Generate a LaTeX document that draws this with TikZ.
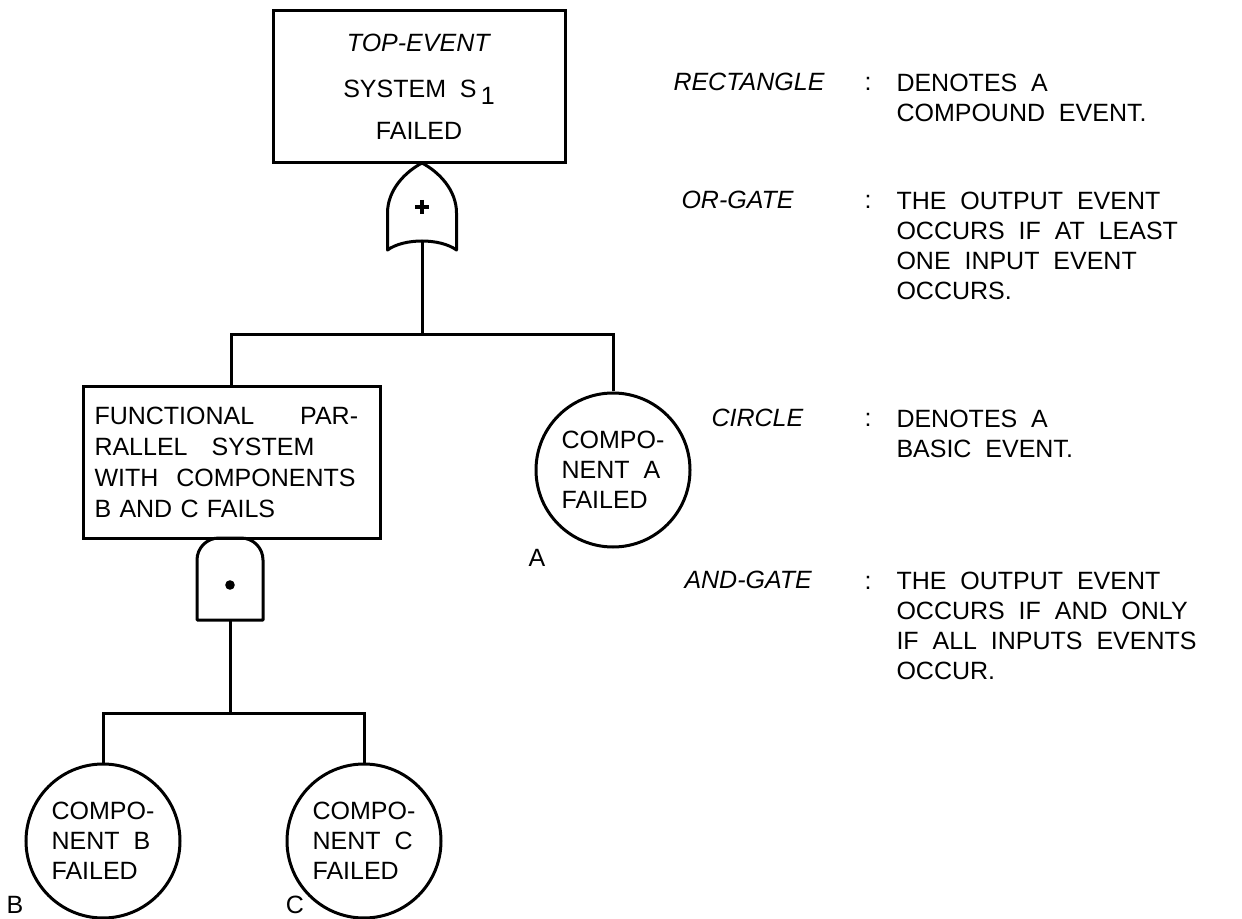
\documentclass[tikz,border=0pt]{standalone}
\usepackage{fontspec}
\setmainfont[WordSpace=2]{Liberation Sans}

\tikzset{
	txt/.style={font=\fontsize{12.5}{15}\selectfont, inner sep=0pt},
	event/.style={txt, draw, line width=1.5pt, rectangle},
	basic/.style={txt, draw, line width=1.5pt, circle, minimum size=77pt, align=left},
	legend/.style={txt, font=\fontsize{12.5}{15}\selectfont\itshape, anchor=west},
	desc/.style={txt, anchor=north west, align=left}
}

\begin{document}
\begin{tikzpicture}[x=0.5pt,y=-0.5pt,line width=1.5pt]
	\useasboundingbox (0,0) rectangle (1242,919);

	% top event
	\node[event, minimum width=146pt, minimum height=76pt, align=center] (top) at (419,87)
		{\textit{TOP-EVENT}\\[8pt] SYSTEM S\,\raisebox{-3.5pt}{1}\\[6pt] FAILED};

	% or-gate under the top event
	\coordinate (orout) at (422,163);
	\coordinate (orin) at (422,241);
	\draw[line join=round] (orout) .. controls (405,172) and (387.5,190) .. (387.5,213)
		-- (387.5,250) .. controls (404,238) and (440,238) .. (456.5,250)
		-- (456.5,213) .. controls (456.5,190) and (439,172) .. (orout) -- cycle;
	\draw[line width=2.2pt] (415,207) -- (429,207) (422,200) -- (422,214);

	% functional parallel system
	\node[event, font=\fontsize{12.5}{15.5}\selectfont, minimum width=148.5pt, minimum height=75.5pt,
		text width=137pt, align=left] (fps) at (231.5,462.5)
		{FUNCTIONAL\hspace{23pt}PAR-\\RALLEL\hspace{12pt}SYSTEM\\WITH\hspace{9pt}COMPONENTS\\B AND C FAILS};

	% and-gate under the parallel system
	\coordinate (andin) at (230,620);
	\draw[line join=round] (andin) -- (197,620) -- (197,560) arc[start angle=180, end angle=90, radius=11pt]
		-- (241,538) arc[start angle=90, end angle=0, radius=11pt] -- (263,620) -- cycle;
	\fill (230,585) circle[radius=2.4pt];

	% basic events
	\node[basic] (compA) at (613,470) {COMPO-\\NENT A\\FAILED};
	\node[basic] (compB) at (103,841) {COMPO-\\NENT B\\FAILED};
	\node[basic] (compC) at (364,841) {COMPO-\\NENT C\\FAILED};

	\node[txt] (labA) at (537,558) {A};
	\node[txt] (labB) at (15,905) {B};
	\node[txt] (labC) at (295,905) {C};

	% connections
	\coordinate (bus1) at (422,335);
	\coordinate (bus2) at (230,713);
	\draw (orin) -- (bus1);
	\draw (fps.north) |- (bus1) -| (compA.north);
	\draw (andin) -- (bus2);
	\draw (compB.north) |- (bus2) -| (compC.north);

	% legend
	\foreach \name/\xx/\yy/\lab in {rect/672/82/RECTANGLE, or/680/200/OR-GATE, circ/710/418/CIRCLE, and/683/580/AND-GATE} {
		\node[legend] (\name-lab) at (\xx,\yy) {\lab};
		\node[txt, anchor=base] (\name-col) at (868,\yy+9) {:};
	}

	\node[desc] (rect-txt) at (895,73) {DENOTES A\\COMPOUND EVENT.};
	\node[desc] (or-txt) at (895,191) {THE OUTPUT EVENT\\OCCURS IF AT LEAST\\ONE INPUT EVENT\\OCCURS.};
	\node[desc] (circ-txt) at (895,409) {DENOTES A\\BASIC EVENT.};
	\node[desc] (and-txt) at (895,571) {THE OUTPUT EVENT\\OCCURS IF AND ONLY\\IF ALL INPUTS EVENTS\\OCCUR.};

\end{tikzpicture}
\end{document}
